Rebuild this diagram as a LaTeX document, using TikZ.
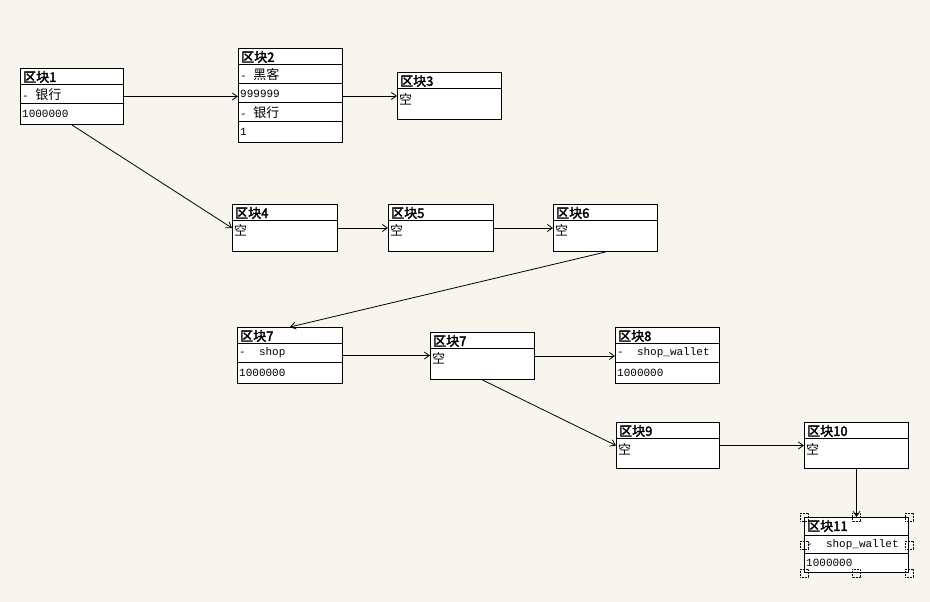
\documentclass[tikz,border=0pt]{standalone}
\usepackage{fontspec}
\setmainfont{Liberation Mono}
\newfontfamily\cjk[AutoFakeBold=2.5]{Noto Sans CJK SC}
\newcommand\cj[1]{{\cjk\fontsize{13}{14}\selectfont #1}}
\usetikzlibrary{arrows.meta,calc}
\definecolor{bg}{RGB}{248,245,238}
\tikzset{
 blockbox/.style={draw, fill=white, line width=1pt, inner sep=0pt, anchor=north west},
 lbl/.style={anchor=west, inner sep=0pt, font=\fontsize{11}{12}\selectfont},
 ttl/.style={anchor=west, inner sep=0pt, font=\cjk\fontsize{13}{14}\selectfont\bfseries},
 arr/.style={line width=0.8pt, -{Straight Barb[length=5pt,width=7pt]}},
 handle/.style={densely dotted, line width=0.6pt},
 sepline/.style={line width=1pt}
}
\newcommand\mkblock[5]{\node[blockbox, minimum width=#4pt, minimum height=#5pt] (#1) at (#2,#3) {};}
\newcommand\sepat[2]{\draw[sepline] ($(#1.north west)+(0,#2)$) -- ($(#1.north east)+(0,#2)$);}
\newcommand\rowtxt[4]{\node[lbl] (#1) at ($(#2.north west)+(2,#3)$) {#4};}
\newcommand\ttltxt[3]{\node[ttl] (#1) at ($(#2.north west)+(3,9)$) {#3};}
\begin{document}
\begin{tikzpicture}[x=1pt,y=-1pt]
\useasboundingbox[fill=bg] (0,0) rectangle (930,602);
% block 1
\mkblock{b1}{20}{68}{103}{56}
\sepat{b1}{17}\sepat{b1}{36}
\ttltxt{t1}{b1}{区块1}
\rowtxt{r1a}{b1}{27}{-\ \cj{银行}}
\rowtxt{r1b}{b1}{46}{1000000}
% block 2
\mkblock{b2}{238}{48}{104}{94}
\sepat{b2}{17}\sepat{b2}{36}\sepat{b2}{55}\sepat{b2}{74}
\ttltxt{t2}{b2}{区块2}
\rowtxt{r2a}{b2}{27}{-\ \cj{黑客}}
\rowtxt{r2b}{b2}{46}{999999}
\rowtxt{r2c}{b2}{65}{-\ \cj{银行}}
\rowtxt{r2d}{b2}{84}{1}
% block 3
\mkblock{b3}{397}{72}{104}{47}
\sepat{b3}{17}
\ttltxt{t3}{b3}{区块3}
\rowtxt{r3}{b3}{27}{\cj{空}}
% block 4,5,6
\mkblock{b4}{232}{204}{105}{47}
\sepat{b4}{16}
\ttltxt{t4}{b4}{区块4}
\rowtxt{r4}{b4}{26}{\cj{空}}
\mkblock{b5}{388}{204}{105}{47}
\sepat{b5}{16}
\ttltxt{t5}{b5}{区块5}
\rowtxt{r5}{b5}{26}{\cj{空}}
\mkblock{b6}{553}{204}{104}{47}
\sepat{b6}{16}
\ttltxt{t6}{b6}{区块6}
\rowtxt{r6}{b6}{26}{\cj{空}}
% block 7a
\mkblock{b7a}{237}{327}{105}{56}
\sepat{b7a}{16}\sepat{b7a}{35}
\ttltxt{t7a}{b7a}{区块7}
\rowtxt{r7a1}{b7a}{26}{-\ \ shop}
\rowtxt{r7a2}{b7a}{46}{1000000}
% block 7b
\mkblock{b7b}{430}{332}{104}{47}
\sepat{b7b}{16}
\ttltxt{t7b}{b7b}{区块7}
\rowtxt{r7b}{b7b}{26}{\cj{空}}
% block 8
\mkblock{b8}{615}{327}{104}{56}
\sepat{b8}{16}\sepat{b8}{35}
\ttltxt{t8}{b8}{区块8}
\rowtxt{r8a}{b8}{26}{-\ \ shop\_wallet}
\rowtxt{r8b}{b8}{46}{1000000}
% block 9, 10
\mkblock{b9}{616}{422}{103}{46}
\sepat{b9}{16}
\ttltxt{t9}{b9}{区块9}
\rowtxt{r9}{b9}{27}{\cj{空}}
\mkblock{b10}{804}{422}{104}{46}
\sepat{b10}{16}
\ttltxt{t10}{b10}{区块10}
\rowtxt{r10}{b10}{27}{\cj{空}}
% block 11
\mkblock{b11}{804}{517}{104}{55}
\sepat{b11}{18}\sepat{b11}{36}
\ttltxt{t11}{b11}{区块11}
\rowtxt{r11a}{b11}{28}{-\ \ shop\_wallet}
\rowtxt{r11b}{b11}{46}{1000000}
% connectors
\draw[arr] (b1.east) -- (b1.east -| b2.west);
\draw[arr] (b3.west -| b2.east) -- (b3.west);
\draw[arr] (b1.south) -- (b4.west);
\draw[arr] (b4.east) -- (b5.west);
\draw[arr] (b5.east) -- (b6.west);
\draw[arr] (b6.south) -- (b7a.north);
\draw[arr] (b7a.east) -- (b7a.east -| b7b.west);
\draw[arr] (b7b.east) -- (b7b.east -| b8.west);
\draw[arr] (b7b.south) -- (b9.west);
\draw[arr] (b9.east) -- (b10.west);
\draw[arr] (b10.south) -- (b11.north);
% selection handles
\foreach \a in {north west, north, north east, west, east, south west, south, south east}
  \draw[handle] ($(b11.\a)+(-4,-4)$) rectangle ++(8,8);
\end{tikzpicture}
\end{document}
